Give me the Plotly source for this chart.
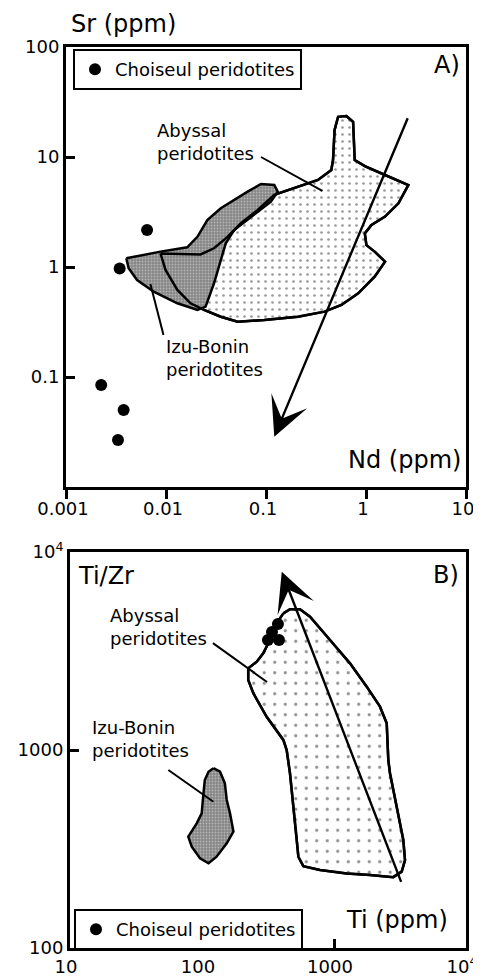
import math
import plotly.graph_objects as go

# ---- Panel A: Sr vs Nd (ppm) ----
abyssal_a_nd = [0.00881, 0.0163, 0.0222, 0.0302, 0.0412, 0.0561, 0.0826, 0.121, 0.209, 0.331,
                0.450, 0.468, 0.485, 0.526, 0.637, 0.743, 0.771, 0.973, 1.55, 2.65,
                2.11, 1.55, 1.135, 0.973, 1.01, 1.22, 1.55, 1.22, 0.836, 0.568,
                0.385, 0.209, 0.0962, 0.052, 0.0353, 0.0240, 0.0176, 0.0130, 0.00989, 0.00881]
abyssal_a_sr = [1.33, 1.31, 1.30, 1.48, 1.88, 2.50, 3.30, 4.52, 5.37, 6.18,
                7.62, 9.39, 17.6, 23.2, 23.6, 20.9, 9.39, 8.28, 6.86, 5.56,
                3.79, 2.87, 2.41, 2.02, 1.58, 1.38, 1.12, 0.817, 0.577, 0.452,
                0.393, 0.353, 0.330, 0.318, 0.353, 0.407, 0.468, 0.618, 0.94, 1.33]

izu_a_nd = [0.00401, 0.00881, 0.0163, 0.0206, 0.0259, 0.0353, 0.0655, 0.0891, 0.121, 0.131,
            0.112, 0.0706, 0.048, 0.0396, 0.0353, 0.0302, 0.0249, 0.0206, 0.0130, 0.00753,
            0.00514, 0.00423, 0.00401]
izu_a_sr = [1.20, 1.38, 1.51, 1.88, 2.67, 3.42, 4.84, 5.69, 5.56, 4.84,
            3.92, 2.87, 2.17, 1.64, 1.16, 0.711, 0.436, 0.407, 0.468, 0.596,
            0.762, 0.973, 1.20]

choiseul_a_nd = [0.00344, 0.00647, 0.00225, 0.00377, 0.00331]
choiseul_a_sr = [0.97, 2.17, 0.0846, 0.050, 0.0267]

arrow_a_nd = [2.65, 0.121]      # tail, head
arrow_a_sr = [23.2, 0.0287]

leader_abyssal_a_nd = [0.0891, 0.366]
leader_abyssal_a_sr = [10.0, 4.91]
leader_izu_a_nd = [0.00698, 0.00944]
leader_izu_a_sr = [0.70, 0.241]

label_abyssal_a = (0.00783, 13.8)
label_izu_a = (0.0095, 0.149)

# ---- Panel B: Ti/Zr vs Ti (ppm) ----
abyssal_b_ti = [413, 464, 552, 658, 933, 1322, 1770, 2230, 2508, 2579,
                2655, 2985, 3350, 3451, 3258, 2812, 1875, 1248, 783, 585,
                537, 522, 492, 464, 438, 413, 309, 245, 224, 224,
                260, 291, 327, 368, 413]
abyssal_b_tizr = [4898, 5136, 5136, 4710, 3594, 2740, 2089, 1655, 1364, 890,
                  763, 517, 351, 278, 243, 228, 234, 238, 248, 259,
                  289, 351, 517, 763, 1000, 1124, 1472, 1933, 2258, 2586,
                  2793, 3078, 3594, 4365, 4898]

izu_b_ti = [122, 137, 149, 154, 163, 173, 154, 129, 112, 96.6,
            83.6, 78.7, 91.2, 99.5, 102, 105, 112, 122]
izu_b_tizr = [809, 777, 679, 559, 479, 387, 338, 289, 268, 284,
              325, 365, 426, 479, 581, 705, 777, 809]

choiseul_b_ti = [376, 339, 316, 383]
choiseul_b_tizr = [4327, 3945, 3594, 3594]

arrow_b_ti = [3258, 402]        # tail, head
arrow_b_tizr = [212, 7955]

leader_abyssal_b_ti = [121, 311]
leader_abyssal_b_tizr = [3467, 2204]
leader_izu_b_ti = [55.6, 122]
leader_izu_b_tizr = [792, 548]

label_abyssal_b = (19.4, 4160)
label_izu_b = (14.2, 1130)

x_ticks_a = [0.001, 0.01, 0.1, 1, 10]
x_text_a = ["0.001", "0.01", "0.1", "1", "10"]
y_ticks_a = [0.1, 1, 10, 100]
y_text_a = ["0.1", "1", "10", "100"]
x_ticks_b = [10, 100, 1000, 10000]
x_text_b = ["10", "100", "1000", "10<sup>4</sup>"]
y_ticks_b = [100, 1000, 10000]
y_text_b = ["100", "1000", "10<sup>4</sup>"]

FONT = "DejaVu Sans"
# page body keeps its 8px default margin, so the figure is 8px smaller than the window
W, H, PAD = 473, 972, 8


def px(v):
    return (v - PAD) / W


def py(v):
    return 1 - (v - PAD) / H


abyssal_pat_a = dict(shape=".", size=7, solidity=0.12, fgcolor="#333333", bgcolor="white")
abyssal_pat_b = dict(shape=".", size=10.5, solidity=0.07, fgcolor="#222222", bgcolor="white")
izu_pat = dict(shape=".", size=3, solidity=0.3, fgcolor="#e4e4e4", bgcolor="#868686")
outline = dict(color="black", width=2.5)

fig = go.Figure()


def add_panel(xa, ya, ab_x, ab_y, ab_pat, iz_x, iz_y, dots_x, dots_y, leaders, legend):
    fig.add_trace(go.Scatter(x=ab_x, y=ab_y, mode="lines", fill="toself", fillpattern=ab_pat,
                             line=outline, xaxis=xa, yaxis=ya, showlegend=False, hoverinfo="skip"))
    fig.add_trace(go.Scatter(x=iz_x, y=iz_y, mode="lines", fill="toself", fillpattern=izu_pat,
                             line=outline, xaxis=xa, yaxis=ya, showlegend=False, hoverinfo="skip"))
    # abyssal outline drawn again over the Izu-Bonin field
    fig.add_trace(go.Scatter(x=ab_x, y=ab_y, mode="lines", line=outline,
                             xaxis=xa, yaxis=ya, showlegend=False, hoverinfo="skip"))
    for lx, ly in leaders:
        fig.add_trace(go.Scatter(x=lx, y=ly, mode="lines", line=dict(color="black", width=2),
                                 xaxis=xa, yaxis=ya, showlegend=False, hoverinfo="skip"))
    fig.add_trace(go.Scatter(x=dots_x, y=dots_y, mode="markers", name="Choiseul peridotites",
                             marker=dict(color="black", size=12), xaxis=xa, yaxis=ya,
                             legend=legend, showlegend=True))


add_panel("x", "y", abyssal_a_nd, abyssal_a_sr, abyssal_pat_a, izu_a_nd, izu_a_sr,
          choiseul_a_nd, choiseul_a_sr,
          [(leader_abyssal_a_nd, leader_abyssal_a_sr), (leader_izu_a_nd, leader_izu_a_sr)], "legend")
add_panel("x2", "y2", abyssal_b_ti, abyssal_b_tizr, abyssal_pat_b, izu_b_ti, izu_b_tizr,
          choiseul_b_ti, choiseul_b_tizr,
          [(leader_abyssal_b_ti, leader_abyssal_b_tizr), (leader_izu_b_ti, leader_izu_b_tizr)], "legend2")

lg = math.log10
annotations = []
for xr, yr, ax_, ay_ in [("x", "y", arrow_a_nd, arrow_a_sr), ("x2", "y2", arrow_b_ti, arrow_b_tizr)]:
    annotations.append(dict(xref=xr, yref=yr, axref=xr, ayref=yr,
                            x=lg(ax_[1]), y=lg(ay_[1]), ax=lg(ax_[0]), ay=lg(ay_[0]),
                            text="", showarrow=True, arrowhead=3, arrowsize=2.7, arrowwidth=2.4,
                            arrowcolor="black", standoff=0, startstandoff=0))

for xr, yr, (lx, ly), txt in [("x", "y", label_abyssal_a, "Abyssal<br>peridotites"),
                              ("x", "y", label_izu_a, "Izu-Bonin<br>peridotites"),
                              ("x2", "y2", label_abyssal_b, "Abyssal<br>peridotites"),
                              ("x2", "y2", label_izu_b, "Izu-Bonin<br>peridotites")]:
    annotations.append(dict(xref=xr, yref=yr, x=lg(lx), y=lg(ly), text=txt, showarrow=False,
                            xanchor="left", yanchor="middle", align="left",
                            font=dict(size=18, family=FONT, color="black")))

big = dict(size=24, family=FONT, color="black")
for x, y, txt, xa in [(462, 65, "A)", "right"),
                      (69, 24, "Sr (ppm)", "left"),
                      (463, 460, "Nd (ppm)", "right"),
                      (461, 575, "B)", "right"),
                      (76, 576, "Ti/Zr", "left"),
                      (450, 920, "Ti (ppm)", "right")]:
    annotations.append(dict(xref="paper", yref="paper", x=px(x), y=py(y), text=txt, showarrow=False,
                            xanchor=xa, yanchor="middle", font=big))

axis_common = dict(type="log", showgrid=False, zeroline=False, showline=True, mirror=True,
                   linecolor="black", linewidth=3, tickcolor="black", tickwidth=2.5, ticklen=9,
                   tickfont=dict(size=18, family=FONT, color="black"), automargin=False,
                   ticklabeloverflow="allow")

legend_common = dict(bordercolor="black", borderwidth=2, bgcolor="white",
                     font=dict(size=18, family=FONT, color="black"),
                     xanchor="left", yanchor="top", itemclick=False)

fig.update_layout(
    width=W, height=H,
    margin=dict(l=0, r=0, t=0, b=0),
    paper_bgcolor="white", plot_bgcolor="white",
    font=dict(family=FONT, color="black"),
    xaxis=dict(axis_common, domain=[px(66), px(466)], anchor="y",
               range=[-3, 1], tickvals=x_ticks_a, ticktext=x_text_a, ticks="outside",
               ticklabelstandoff=-6, ticklabelshift=-3),
    yaxis=dict(axis_common, domain=[py(487), py(47)], anchor="x",
               range=[-2, 2], tickvals=y_ticks_a, ticktext=y_text_a, ticks="inside"),
    xaxis2=dict(axis_common, domain=[px(70), px(466)], anchor="y2",
                range=[1, 4], tickvals=x_ticks_b, ticktext=x_text_b, ticks="inside",
                ticklabelshift=-4),
    yaxis2=dict(axis_common, domain=[py(948), py(552)], anchor="x2",
                range=[2, 4], tickvals=y_ticks_b, ticktext=y_text_b, ticks="inside"),
    legend=dict(legend_common, x=px(73), y=py(49)),
    legend2=dict(legend_common, x=px(74), y=py(909)),
    annotations=annotations,
)

fig.write_html("out.html")
